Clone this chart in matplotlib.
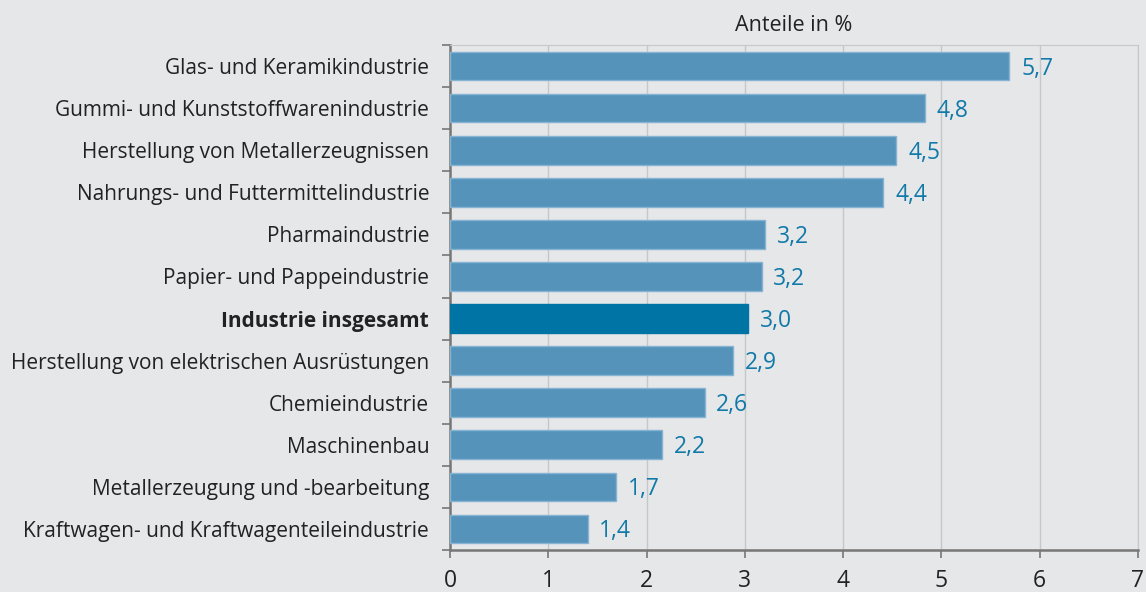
import matplotlib.pyplot as plt
import matplotlib
import numpy as np

matplotlib.rcParams['font.family'] = ["Open Sans", "DejaVu Sans"]
matplotlib.rcParams['font.size'] = 15

categories = [
    "Glas- und Keramikindustrie",
    "Gummi- und Kunststoffwarenindustrie",
    "Herstellung von Metallerzeugnissen",
    "Nahrungs- und Futtermittelindustrie",
    "Pharmaindustrie",
    "Papier- und Pappeindustrie",
    "Industrie insgesamt",
    "Herstellung von elektrischen Ausrüstungen",
    "Chemieindustrie",
    "Maschinenbau",
    "Metallerzeugung und -bearbeitung",
    "Kraftwagen- und Kraftwagenteileindustrie",
]
values = [5.69, 4.83, 4.54, 4.41, 3.21, 3.17, 3.03, 2.88, 2.59, 2.16, 1.69, 1.40]
value_labels = ["5,7", "4,8", "4,5", "4,4", "3,2", "3,2", "3,0", "2,9", "2,6", "2,2", "1,7", "1,4"]
highlight = "Industrie insgesamt"

bg = "#e6e7e9"
fig = plt.figure(figsize=(11.46, 5.92), dpi=100, facecolor=bg)
ax = fig.add_axes([450 / 1146, 42 / 592, 688 / 1146, 505 / 592])
ax.set_facecolor(bg)

y = np.arange(len(categories))
colors = ["#0075a5" if c == highlight else "#5593bb" for c in categories]
edges = ["#0075a5" if c == highlight else "#86b3d2" for c in categories]
ax.barh(y, values, height=0.68, color=colors, edgecolor=edges, linewidth=1, zorder=3)

for yi, v, lab in zip(y, values, value_labels):
    ax.text(v + 0.12, yi + 0.06, lab, va="center", ha="left", color="#1179a8", fontsize=16.5)

ax.set_ylim(len(categories) - 0.5, -0.5)
ax.set_xlim(0, 7)
ax.set_yticks(y)
ax.set_yticklabels(categories, color="#222222", fontsize=15)
for t in ax.get_yticklabels():
    if t.get_text() == highlight:
        t.set_fontweight("bold")
ax.tick_params(axis="y", which="major", length=0, pad=15)
ax.set_yticks(np.arange(-0.5, len(categories), 1), minor=True)
ax.tick_params(axis="y", which="minor", length=6, color="#777777", width=1.2)

ax.set_xticks(range(8))
ax.set_xticklabels([str(i) for i in range(8)], color="#222222", fontsize=16.5)
ax.tick_params(axis="x", length=6, color="#777777", width=1.2, pad=8)
ax.grid(axis="x", color="#c6c7c9", linewidth=1, zorder=0)

ax.spines["left"].set_color("#777777")
ax.spines["left"].set_linewidth(1.8)
ax.spines["bottom"].set_color("#777777")
ax.spines["bottom"].set_linewidth(1.8)
ax.spines["top"].set_color("#c6c7c9")
ax.spines["right"].set_color("#c6c7c9")

ax.set_title("Anteile in %", fontsize=15.5, color="#222222", pad=10)

fig.savefig("out.png", dpi=100, facecolor=bg)
